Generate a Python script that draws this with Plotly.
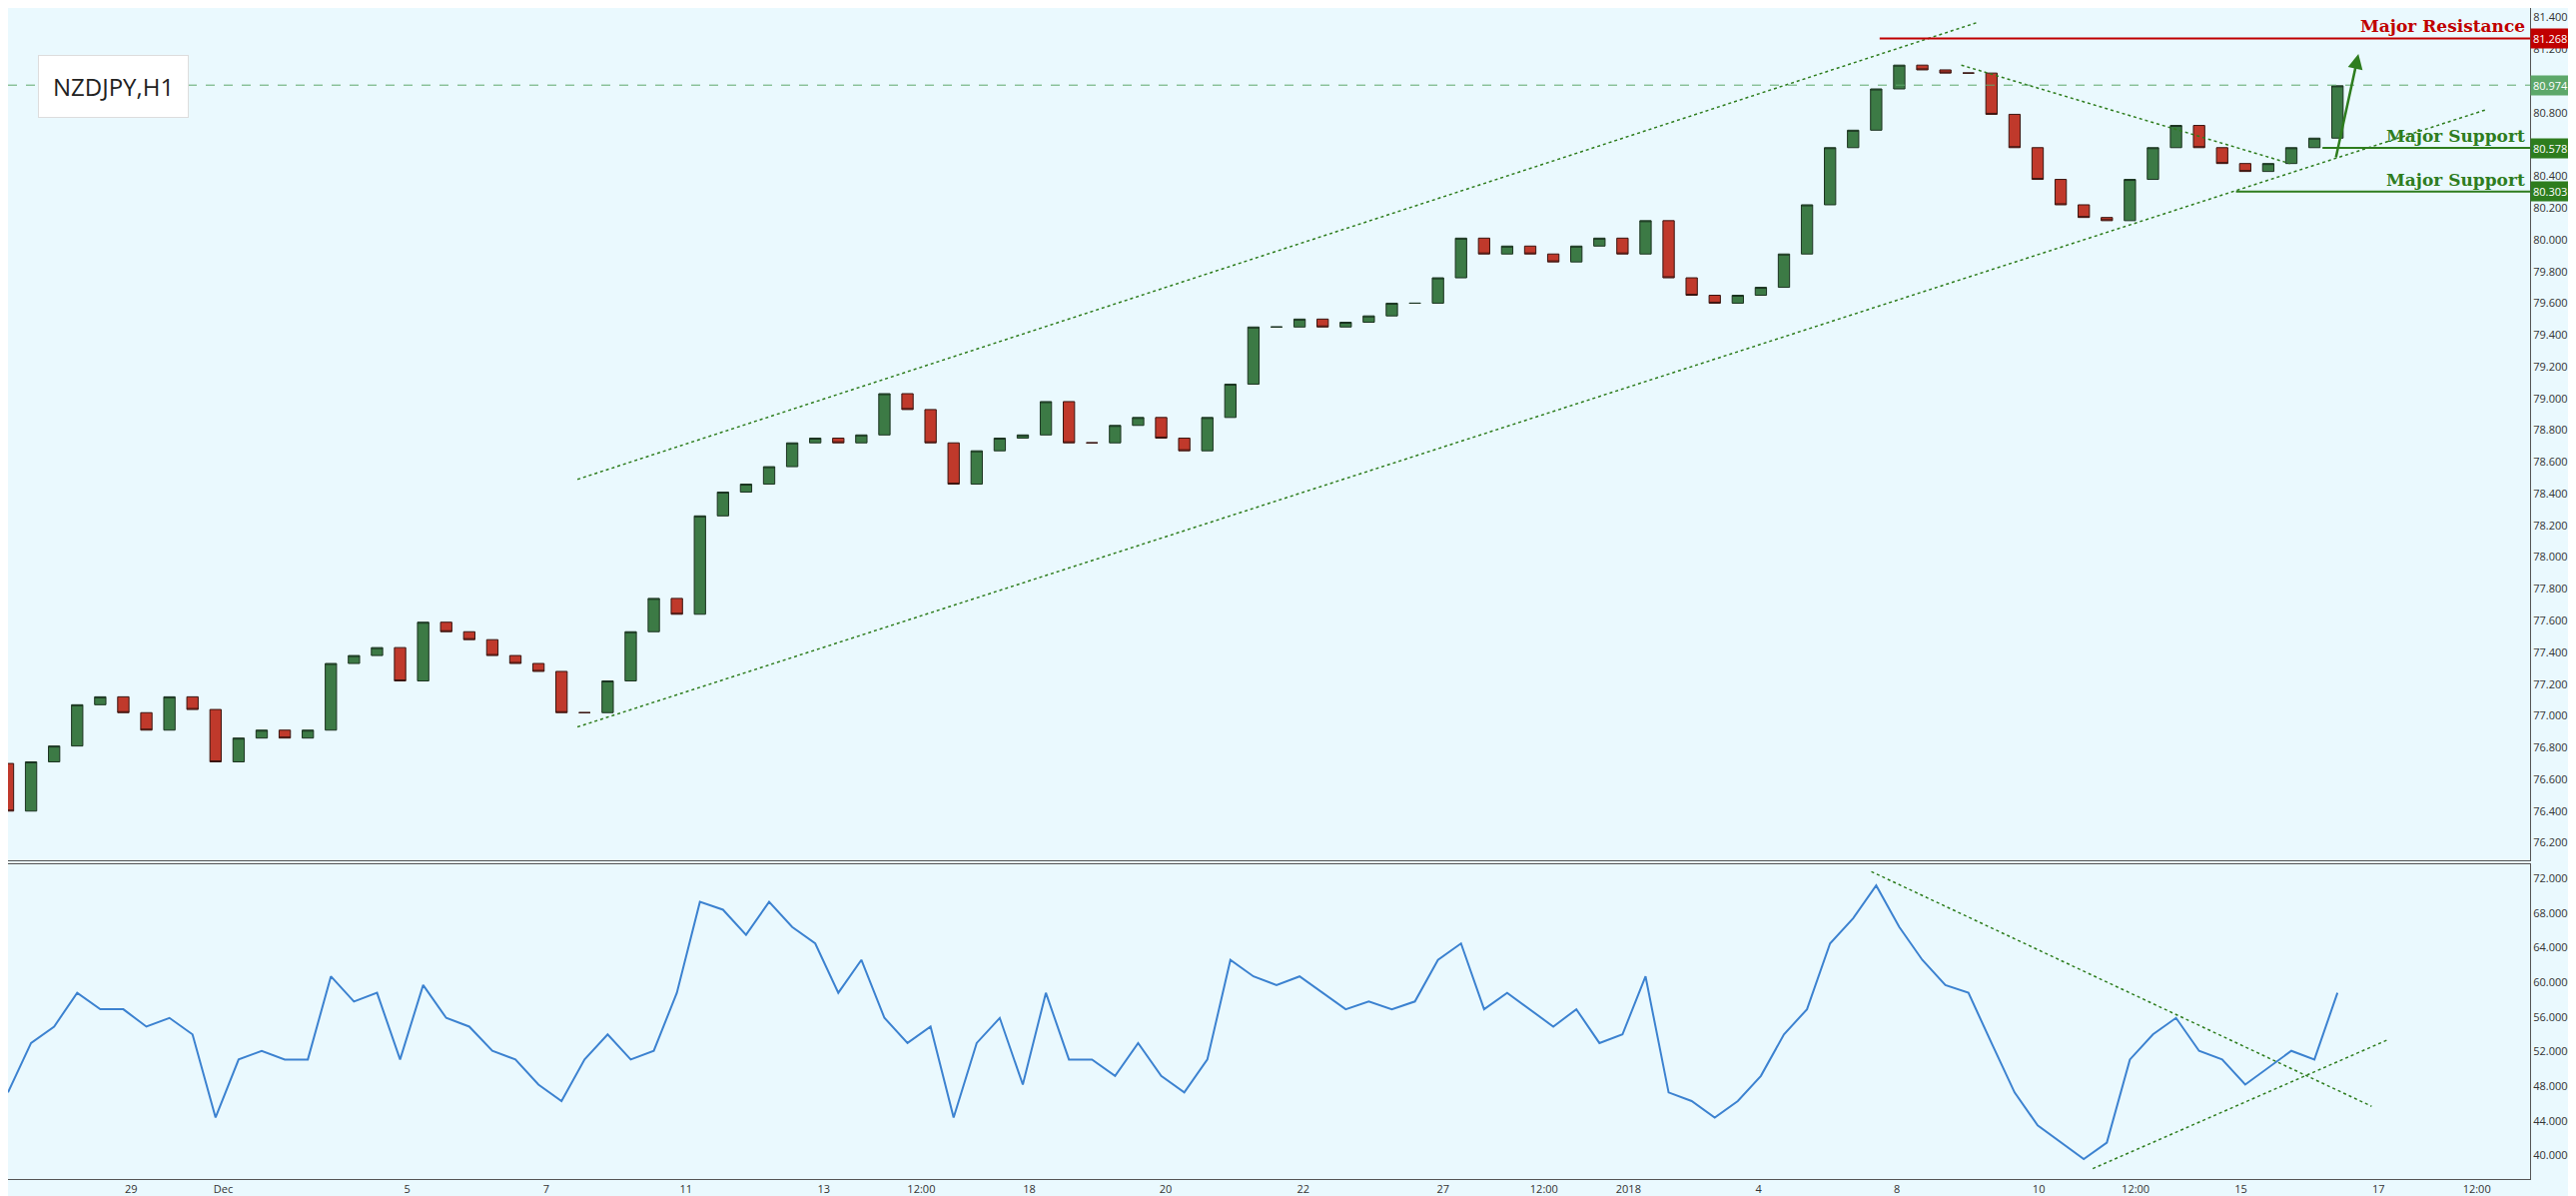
import numpy as np
import plotly.graph_objects as go
from plotly.subplots import make_subplots

# 8-hour closes (NZDJPY)
closes = [76.40, 76.71, 76.81, 77.07, 77.12, 77.02, 76.91, 77.12, 77.04, 76.71,
          76.86, 76.91, 76.86, 76.91, 77.33, 77.38, 77.43, 77.22, 77.59, 77.53,
          77.48, 77.38, 77.33, 77.28, 77.02, 77.02, 77.22, 77.53, 77.74, 77.64,
          78.26, 78.41, 78.46, 78.57, 78.72, 78.75, 78.72, 78.77, 79.03, 78.93,
          78.72, 78.46, 78.67, 78.75, 78.77, 78.98, 78.72, 78.72, 78.83, 78.88,
          78.75, 78.67, 78.88, 79.09, 79.45, 79.45, 79.50, 79.45, 79.48, 79.52,
          79.60, 79.60, 79.76, 80.01, 79.91, 79.96, 79.91, 79.86, 79.96, 80.01,
          79.91, 80.12, 79.76, 79.65, 79.60, 79.65, 79.70, 79.91, 80.22, 80.58,
          80.69, 80.95, 81.10, 81.07, 81.05, 81.05, 80.79, 80.58, 80.38, 80.22,
          80.14, 80.12, 80.38, 80.58, 80.72, 80.58, 80.48, 80.43, 80.48, 80.58,
          80.64, 80.97]
rsi = [47.3, 53.0, 54.9, 58.8, 56.9, 56.9, 54.9, 55.9, 54.0, 44.4,
       51.1, 52.1, 51.1, 51.1, 60.7, 57.8, 58.8, 51.1, 59.7, 55.9,
       54.9, 52.1, 51.1, 48.2, 46.3, 51.1, 54.0, 51.1, 52.1, 58.8,
       69.3, 68.4, 65.5, 69.3, 66.4, 64.5, 58.8, 62.6, 55.9, 53.0,
       54.9, 44.4, 53.0, 55.9, 48.2, 58.8, 51.1, 51.1, 49.2, 53.0,
       49.2, 47.3, 51.1, 62.6, 60.7, 59.7, 60.7, 58.8, 56.9, 57.8,
       56.9, 57.8, 62.6, 64.5, 56.9, 58.8, 56.9, 54.9, 56.9, 53.0,
       54.0, 60.7, 47.3, 46.3, 44.4, 46.3, 49.2, 54.0, 56.9, 64.5,
       67.4, 71.2, 66.4, 62.6, 59.7, 58.8, 53.0, 47.3, 43.5, 41.5,
       39.6, 41.5, 51.1, 54.0, 55.9, 52.1, 51.1, 48.2, 50.2, 52.1,
       51.1, 58.8]
opens = [76.70] + closes[:-1]

tick_pos = [1.78, 3.11, 5.77, 7.78, 9.8, 11.79, 13.2, 14.76, 16.73, 18.72,
            20.74, 22.2, 23.42, 25.3, 27.3, 29.35, 30.75, 32.27, 34.26, 35.68]
tick_text = ["29", "Dec", "5", "7", "11", "13", "12:00", "18", "20", "22",
             "27", "12:00", "2018", "4", "8", "10", "12:00", "15", "17", "12:00"]

resistance = 81.268
support1 = 80.578
support2 = 80.303
last_price = 80.974

x = np.arange(len(closes)) / 3.0
bg = "#EAF9FE"
green = "#2E7D1E"

fig = make_subplots(rows=2, cols=1, shared_xaxes=True, vertical_spacing=0.003,
                    row_heights=[0.73, 0.27])
fig.add_trace(go.Candlestick(x=x, open=opens, high=[max(a, b) for a, b in zip(opens, closes)],
                             low=[min(a, b) for a, b in zip(opens, closes)], close=closes,
                             increasing=dict(fillcolor="#3C7A45", line=dict(color="#1b3320", width=1)),
                             decreasing=dict(fillcolor="#C0392B", line=dict(color="#3a1510", width=1)),
                             whiskerwidth=0, showlegend=False), row=1, col=1)
fig.add_trace(go.Scatter(x=x, y=rsi, mode="lines", line=dict(color="#3C82D0", width=2),
                         showlegend=False), row=2, col=1)

def seg(x0, y0, x1, y1, row, color=green, dash="dot", width=1.5):
    fig.add_trace(go.Scatter(x=[x0, x1], y=[y0, y1], mode="lines", showlegend=False,
                             line=dict(color=color, dash=dash, width=width)), row=row, col=1)

# channel and trend lines
seg(8.23, 78.49, 28.47, 81.37, 1)
seg(8.23, 76.93, 35.82, 80.82, 1)
seg(28.23, 81.10, 32.98, 80.48, 1)
seg(0, last_price, 36.5, last_price, 1, color="#5DA86A", dash="dash", width=1)
seg(27.05, resistance, 36.5, resistance, 1, color="#C00000", dash="solid", width=2)
seg(33.45, support1, 36.5, support1, 1, color=green, dash="solid", width=2)
seg(32.2, support2, 36.5, support2, 1, color=green, dash="solid", width=2)
seg(26.93, 72.8, 34.16, 45.7, 2)
seg(30.13, 38.5, 34.4, 53.4, 2)

fig.add_annotation(x=33.97, y=81.17, ax=33.64, ay=80.51, xref="x", yref="y", axref="x", ayref="y",
                   showarrow=True, arrowhead=2, arrowsize=1.2, arrowwidth=2.5, arrowcolor=green, text="")
for txt, yv, col in [("Major Resistance", resistance, "#C00000"),
                     ("Major Support", support1, green), ("Major Support", support2, green)]:
    fig.add_annotation(x=36.4, y=yv, xref="x", yref="y", text="<b>" + txt + "</b>", showarrow=False,
                       xanchor="right", yanchor="bottom",
                       font=dict(family="DejaVu Serif", size=17, color=col))
for yv, col in [(resistance, "#C00000"), (support1, green), (support2, green), (last_price, "#5DA86A")]:
    fig.add_annotation(x=1.0, y=yv, xref="paper", yref="y", text=f"{yv:.3f}", showarrow=False,
                       xanchor="left", bgcolor=col, font=dict(size=11, color="white"), borderpad=2)
fig.add_annotation(x=0.012, y=0.96, xref="paper", yref="paper", text="NZDJPY,H1", showarrow=False,
                   xanchor="left", yanchor="top", bgcolor="white", bordercolor="#dddddd", borderwidth=1,
                   borderpad=14, font=dict(family="Open Sans", size=24, color="#222"))

fig.update_layout(width=2579, height=1197, plot_bgcolor=bg, paper_bgcolor=bg,
                  margin=dict(l=0, r=54, t=0, b=25), showlegend=False)
fig.update_xaxes(range=[0, 36.45], showgrid=False, zeroline=False, rangeslider_visible=False,
                 tickvals=tick_pos, ticktext=tick_text, tickfont=dict(size=11, color="#333"),
                 showline=True, linecolor="#555", mirror=True)
fig.update_xaxes(showticklabels=False, row=1, col=1)
fig.update_yaxes(side="right", showgrid=False, zeroline=False, showline=True, linecolor="#555",
                 mirror=True, tickfont=dict(size=11, color="#333"))
fig.update_yaxes(range=[76.09, 81.46], dtick=0.2, tickformat=".3f", row=1, col=1)
fig.update_yaxes(range=[37.3, 73.7], dtick=4, tickformat=".4f", row=2, col=1)

fig.write_html("out.html")
